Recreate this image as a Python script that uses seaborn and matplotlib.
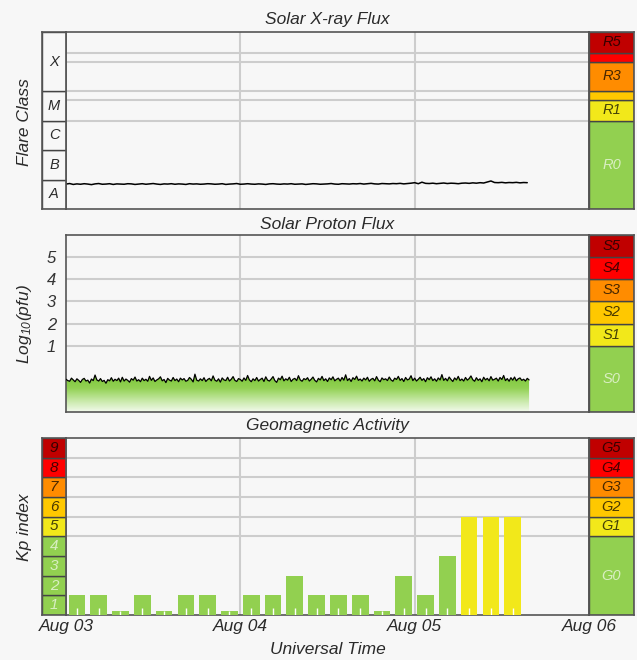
import numpy as np
import pandas as pd
import matplotlib
matplotlib.use("Agg")
import matplotlib.pyplot as plt
import seaborn as sns
from matplotlib.colors import LinearSegmentedColormap

# ---------------- data ----------------
day_labels = ["Aug 03", "Aug 04", "Aug 05", "Aug 06"]
day_hours = [0, 24, 48, 72]

xray_hours = np.arange(0, 64, 0.5)
xray_flux_1e8 = [
    7.0, 7.3, 6.8, 7.1, 6.9, 7.2, 7.0, 6.7, 7.1, 7.3,
    6.9, 7.0, 7.2, 6.8, 7.1, 7.0, 6.9, 7.2, 7.1, 6.8,
    7.0, 7.2, 6.9, 7.1, 7.3, 7.0, 6.8, 7.1, 7.0, 7.2,
    6.9, 7.1, 7.0, 6.8, 7.2, 7.0, 7.1, 6.9, 7.0, 7.2,
    7.1, 6.9, 7.0, 7.2, 6.8, 7.0, 7.1, 7.3, 6.9, 7.0,
    7.2, 7.0, 6.9, 7.1, 7.0, 6.8, 7.1, 7.2, 7.0, 6.9,
    7.1, 7.0, 7.2, 6.9, 7.0, 7.1, 6.8, 7.0, 7.2, 7.1,
    6.9, 7.0, 7.1, 7.3, 7.0, 6.9, 7.2, 7.1, 7.0, 7.2,
    7.1, 7.3, 7.0, 7.2, 7.4, 7.1, 7.0, 7.3, 7.2, 7.1,
    7.3, 7.2, 7.4, 7.1, 7.3, 7.5, 7.8, 7.2, 8.1, 7.4,
    7.3, 7.5, 7.2, 7.4, 7.6, 7.3, 7.5, 7.4, 7.2, 7.5,
    7.6, 7.4, 7.7, 7.5, 7.8, 7.6, 8.2, 8.9, 7.9, 7.8,
    8.0, 7.7, 7.9, 7.8, 8.0, 7.7, 7.9, 7.8,
]

proton_hours = np.arange(0, 64, 0.25)
proton_log10 = [
    -0.52, -0.58, -0.61, -0.47, -0.55, -0.63, -0.50, -0.57, -0.66, -0.53, -0.48, -0.60, -0.56, -0.69, -0.51, -0.58,
    -0.33, -0.55, -0.60, -0.49, -0.62, -0.57, -0.70, -0.54, -0.59, -0.45, -0.61, -0.52, -0.58, -0.47, -0.64, -0.43,
    -0.60, -0.51, -0.57, -0.65, -0.49, -0.56, -0.42, -0.60, -0.54, -0.63, -0.47, -0.58, -0.52, -0.61, -0.39, -0.57,
    -0.46, -0.62, -0.55, -0.50, -0.41, -0.59, -0.53, -0.67, -0.48, -0.56, -0.60, -0.44, -0.58, -0.51, -0.63, -0.47,
    -0.55, -0.49, -0.61, -0.57, -0.44, -0.52, -0.64, -0.29, -0.56, -0.60, -0.50, -0.58, -0.45, -0.62, -0.53, -0.48,
    -0.59, -0.37, -0.56, -0.61, -0.50, -0.65, -0.46, -0.55, -0.58, -0.43, -0.60, -0.52, -0.40, -0.57, -0.62, -0.49,
    -0.53, -0.61, -0.46, -0.57, -0.35, -0.55, -0.63, -0.50, -0.58, -0.44, -0.60, -0.53, -0.47, -0.62, -0.41, -0.56,
    -0.60, -0.51, -0.40, -0.58, -0.66, -0.47, -0.54, -0.38, -0.59, -0.50, -0.56, -0.43, -0.62, -0.52, -0.48, -0.58,
    -0.36, -0.55, -0.61, -0.49, -0.54, -0.45, -0.60, -0.52, -0.42, -0.57, -0.64, -0.48, -0.55, -0.39, -0.58, -0.50,
    -0.62, -0.46, -0.54, -0.41, -0.59, -0.52, -0.47, -0.60, -0.44, -0.56, -0.32, -0.58, -0.49, -0.62, -0.45, -0.53,
    -0.38, -0.57, -0.51, -0.60, -0.47, -0.55, -0.43, -0.61, -0.52, -0.48, -0.59, -0.40, -0.56, -0.63, -0.46, -0.54,
    -0.50, -0.58, -0.42, -0.55, -0.61, -0.47, -0.53, -0.39, -0.57, -0.49, -0.62, -0.44, -0.55, -0.51, -0.36, -0.58,
    -0.47, -0.60, -0.52, -0.43, -0.57, -0.49, -0.63, -0.45, -0.54, -0.41, -0.58, -0.50, -0.61, -0.46, -0.55, -0.31,
    -0.57, -0.48, -0.59, -0.42, -0.53, -0.62, -0.46, -0.55, -0.39, -0.58, -0.51, -0.60, -0.44, -0.56, -0.49, -0.37,
    -0.54, -0.61, -0.45, -0.57, -0.50, -0.63, -0.43, -0.55, -0.48, -0.59, -0.40, -0.56, -0.52, -0.47, -0.60, -0.44,
    -0.53, -0.35, -0.58, -0.49, -0.61, -0.45, -0.56, -0.42, -0.59, -0.50, -0.46, -0.57, -0.52, -0.60, -0.48, -0.55,
]

kp_start_hours = [0, 3, 6, 9, 12, 15, 18, 21, 24, 27, 30, 33, 36, 39, 42, 45, 48, 51, 54, 57, 60]
kp_values = [1, 1, 0.2, 1, 0.2, 1, 1, 0.2, 1, 1, 2, 1, 1, 1, 0.2, 2, 1, 3, 5, 5, 5]

flare_classes = ["A", "B", "C", "M", "X"]
flare_bounds = [1e-8, 1e-7, 1e-6, 1e-5, 1e-4, 1e-2]
r_labels = ["R0", "R1", "", "R3", "", "R5"]
r_bounds = [1e-8, 1e-5, 5e-5, 1e-4, 1e-3, 2e-3, 1e-2]
s_labels = ["S0", "S1", "S2", "S3", "S4", "S5"]
s_bounds = [-2, 1, 2, 3, 4, 5, 6]
g_labels = ["G0", "G1", "G2", "G3", "G4", "G5"]
g_bounds = [0, 4, 5, 6, 7, 8, 9]
kp_box_labels = ["1", "2", "3", "4", "5", "6", "7", "8", "9"]
proton_ticks = [1, 2, 3, 4, 5]

# ---------------- style ----------------
sns.set_style("white")
plt.rcParams["font.family"] = ["Liberation Sans", "DejaVu Sans"]
plt.rcParams["font.style"] = "italic"
plt.rcParams["mathtext.fontset"] = "custom"
plt.rcParams["mathtext.rm"] = "Liberation Sans:italic"
plt.rcParams["mathtext.it"] = "Liberation Sans:italic"

BG = "#f7f7f7"
FRAME = "#555555"
GRID = "#cdcdcd"
TXT = "#2a2a2a"
scale_colors = ["#92d050", "#f2e81a", "#ffc800", "#ff8c00", "#ff0000", "#c00000"]
kp_box_colors = ["#92d050"] * 4 + ["#f2e81a", "#ffc800", "#ff8c00", "#ff0000", "#c00000"]

W, H = 637, 660
fig = plt.figure(figsize=(W / 100, H / 100), dpi=100, facecolor=BG)


def px_axes(x0, y0, x1, y1):
    ax = fig.add_axes([x0 / W, 1 - y1 / H, (x1 - x0) / W, (y1 - y0) / H])
    ax.set_facecolor(BG)
    for s in ax.spines.values():
        s.set_color(FRAME)
        s.set_linewidth(1.2)
        s.set_visible(True)
    ax.set_xticks([])
    ax.set_yticks([])
    return ax


def column(ax, bounds, colors, labels, text_colors, log=False, fs=10.5):
    if log:
        ax.set_yscale("log")
    for lo, hi, c, lab, tc in zip(bounds[:-1], bounds[1:], colors, labels, text_colors):
        ax.bar(0.5, hi - lo, bottom=lo, width=1, color=c, edgecolor="#444444", linewidth=1)
        mid = np.sqrt(lo * hi) if log else (lo + hi) / 2
        ax.text(0.5, mid, lab, ha="center", va="center", fontsize=fs,
                color=tc[0], alpha=tc[1], style="italic")
    ax.set_xlim(0, 1)
    ax.set_ylim(bounds[0], bounds[-1])
    ax.set_xticks([])
    ax.set_yticks([])
    ax.minorticks_off()


dark = ("black", 0.72)
light = ("white", 0.65)
XL, XM, XR, XRR = 42, 66, 589, 634

# ---------------- panel 1: X-ray ----------------
T1, B1 = 32, 209
ax1 = px_axes(XM, T1, XR, B1)
ax1.set_yscale("log")
for yv in [2e-3, 1e-3, 1e-4, 5e-5, 1e-5]:
    ax1.axhline(yv, color=GRID, lw=1.5, zorder=1)
for xv in day_hours[1:3]:
    ax1.axvline(xv, color=GRID, lw=1.5, zorder=1)
xray_df = pd.DataFrame({"hour": xray_hours, "flux": np.array(xray_flux_1e8) * 1e-8})
sns.lineplot(data=xray_df, x="hour", y="flux", color="black", lw=1.1, ax=ax1, zorder=3)
ax1.set_xlim(0, 72)
ax1.set_ylim(1e-8, 1e-2)
ax1.set_xticks([]); ax1.set_yticks([]); ax1.minorticks_off()
ax1.set_xlabel(""); ax1.set_ylabel("")

ax1l = px_axes(XL, T1, XM, B1)
column(ax1l, flare_bounds, [BG] * 5, flare_classes, [(TXT, 1)] * 5, log=True, fs=10.5)
ax1r = px_axes(XR, T1, XRR, B1)
column(ax1r, r_bounds, scale_colors, r_labels, [light] + [dark] * 5, log=True)

fig.text((XM + XR) / 2 / W, 1 - 24 / H, "Solar X-ray Flux", ha="center", va="baseline",
         fontsize=12.5, color=TXT)
fig.text(25 / W, 1 - 122 / H, "Flare Class", rotation=90, ha="center", va="center",
         fontsize=12.5, color=TXT)

# ---------------- panel 2: protons ----------------
T2, B2 = 235, 412
ax2 = px_axes(XM, T2, XR, B2)
for yv in proton_ticks:
    ax2.axhline(yv, color=GRID, lw=1.5, zorder=1)
for xv in day_hours[1:3]:
    ax2.axvline(xv, color=GRID, lw=1.5, zorder=1)
poly = ax2.fill_between(proton_hours, -2, proton_log10, color="none", lw=0)
green_cmap = LinearSegmentedColormap.from_list(
    "g", [(0.0, "#f3faed"), (0.3, "#c8e9a9"), (0.65, "#92d153"), (1.0, "#7cc63a")])
grad = np.linspace(0, 1, 256).reshape(-1, 1)
img = ax2.imshow(grad, extent=[0, 63.75, -2, -0.35], aspect="auto", cmap=green_cmap,
                 origin="lower", zorder=2)
img.set_clip_path(poly.get_paths()[0], transform=ax2.transData)
proton_df = pd.DataFrame({"hour": proton_hours, "logpfu": proton_log10})
sns.lineplot(data=proton_df, x="hour", y="logpfu", color="black", lw=0.9, ax=ax2, zorder=3)
ax2.set_xlim(0, 72)
ax2.set_ylim(-2, 6)
ax2.set_xticks([])
ax2.set_yticks(proton_ticks)
ax2.set_yticklabels([str(t) for t in proton_ticks], fontsize=12, color="#333333", style="italic")
ax2.tick_params(axis="y", length=0, pad=7)
ax2.set_xlabel(""); ax2.set_ylabel("")

ax2r = px_axes(XR, T2, XRR, B2)
column(ax2r, s_bounds, scale_colors, s_labels, [light] + [dark] * 5)

fig.text((XM + XR) / 2 / W, 1 - 229 / H, "Solar Proton Flux", ha="center", va="baseline",
         fontsize=12.5, color=TXT)
fig.text(25 / W, 1 - 324 / H, r"Log$_{\mathit{10}}$(pfu)", rotation=90, ha="center",
         va="center", fontsize=12.5, color=TXT)

# ---------------- panel 3: Kp ----------------
T3, B3 = 438, 615
ax3 = px_axes(XM, T3, XR, B3)
for yv in [4, 5, 6, 7, 8]:
    ax3.axhline(yv, color=GRID, lw=1.5, zorder=1)
for xv in day_hours[1:3]:
    ax3.axvline(xv, color=GRID, lw=1.5, zorder=1)
kp_centers = [h + 1.5 for h in kp_start_hours]
kp_colors = [scale_colors[0] if v < 5 else scale_colors[min(int(v) - 4, 5)] for v in kp_values]
ax3.bar(kp_centers, kp_values, width=2.3, color=kp_colors, zorder=3, linewidth=0)
ax3.vlines(kp_centers, 0, [min(v, 0.35) for v in kp_values], color="white", lw=1, zorder=4)
ax3.set_xlim(0, 72)
ax3.set_ylim(0, 9)
ax3.set_yticks([])
ax3.set_xticks(day_hours)
ax3.set_xticklabels(day_labels, fontsize=12.5, color=TXT, style="italic")
ax3.tick_params(axis="x", length=0, pad=3)

ax3l = px_axes(XL, T3, XM, B3)
column(ax3l, list(range(10)), kp_box_colors, kp_box_labels,
       [light] * 4 + [dark] * 5, fs=11)
ax3r = px_axes(XR, T3, XRR, B3)
column(ax3r, g_bounds, scale_colors, g_labels, [light] + [dark] * 5)

fig.text((XM + XR) / 2 / W, 1 - 430 / H, "Geomagnetic Activity", ha="center", va="baseline",
         fontsize=12.5, color=TXT)
fig.text(25 / W, 1 - 527 / H, "Kp index", rotation=90, ha="center", va="center",
         fontsize=12.5, color=TXT)
fig.text((XM + XR) / 2 / W, 1 - 650 / H, "Universal Time", ha="center", va="center",
         fontsize=12.5, color=TXT)

fig.savefig("out.png", dpi=100, facecolor=BG)
